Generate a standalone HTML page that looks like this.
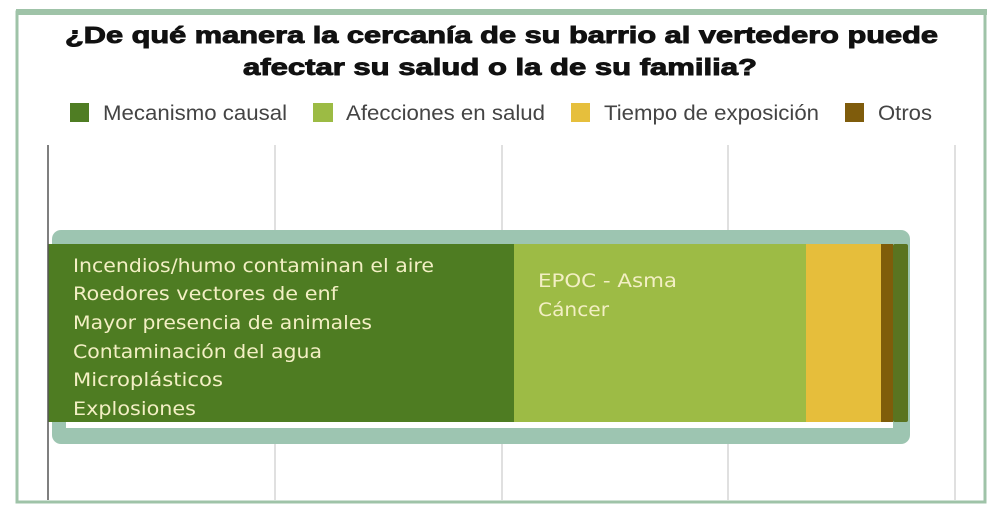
<!DOCTYPE html>
<html><head><meta charset="utf-8"><style>
html,body{margin:0;padding:0;background:#fff;}
svg{display:block;}
</style></head><body>
<svg width="992" height="509" xmlns="http://www.w3.org/2000/svg">
<rect x="0" y="0" width="992" height="509" fill="#fff"/>
<!-- frame -->
<rect x="17" y="12" width="968" height="490" fill="none" stroke="#9fc3a8" stroke-width="3"/>
<rect x="16" y="9" width="971" height="6" fill="#9fc3a8"/>
<!-- title -->
<g font-family="Liberation Sans, sans-serif" font-weight="bold" font-size="23" fill="#111" stroke="#111" stroke-width="0.9">
<text x="65" y="43" textLength="873" lengthAdjust="spacingAndGlyphs">¿De qué manera la cercanía de su barrio al vertedero puede</text>
<text x="243" y="75" textLength="514" lengthAdjust="spacingAndGlyphs">afectar su salud o la de su familia?</text>
</g>
<!-- legend -->
<g font-family="Liberation Sans, sans-serif" font-size="21" fill="#444">
<rect x="70" y="103" width="19" height="19" fill="#4f7d23"/>
<text x="103" y="120" textLength="184" lengthAdjust="spacingAndGlyphs">Mecanismo causal</text>
<rect x="313" y="103" width="20" height="19" fill="#9cbb44"/>
<text x="346" y="120" textLength="199" lengthAdjust="spacingAndGlyphs">Afecciones en salud</text>
<rect x="571" y="103" width="19" height="19" fill="#e6bf3c"/>
<text x="604" y="120" textLength="215" lengthAdjust="spacingAndGlyphs">Tiempo de exposición</text>
<rect x="845" y="103" width="19" height="19" fill="#7f5c0c"/>
<text x="878" y="120" textLength="54" lengthAdjust="spacingAndGlyphs">Otros</text>
</g>
<!-- grid -->
<g stroke="#d6d6d6" stroke-width="1.5">
<line x1="275" y1="145" x2="275" y2="500"/>
<line x1="502" y1="145" x2="502" y2="500"/>
<line x1="728" y1="145" x2="728" y2="500"/>
<line x1="955" y1="145" x2="955" y2="500"/>
</g>
<!-- highlight box -->
<rect x="52" y="230" width="858" height="214" rx="9" fill="#9dc5b1"/>
<rect x="66" y="420" width="827" height="8" fill="#fff"/>
<!-- bars -->
<rect x="48" y="244" width="466" height="178" fill="#4e7c22"/>
<rect x="514" y="244" width="292" height="178" fill="#9dbb45"/>
<rect x="806" y="244" width="75" height="178" fill="#e6be3b"/>
<rect x="881" y="244" width="12" height="178" fill="#7f5d0a"/>
<rect x="893" y="244" width="15" height="178" rx="2" fill="#5a7420"/>
<line x1="48" y1="145" x2="48" y2="500" stroke="#555" stroke-width="1.5"/>
<!-- bar texts -->
<g font-family="DejaVu Sans, sans-serif" font-size="19" fill="#f3efc4">
<text x="73" y="272" textLength="361" lengthAdjust="spacingAndGlyphs">Incendios/humo contaminan el aire</text>
<text x="73" y="300" textLength="265" lengthAdjust="spacingAndGlyphs">Roedores vectores de enf</text>
<text x="73" y="329" textLength="299" lengthAdjust="spacingAndGlyphs">Mayor presencia de animales</text>
<text x="73" y="358" textLength="249" lengthAdjust="spacingAndGlyphs">Contaminación del agua</text>
<text x="73" y="386" textLength="150" lengthAdjust="spacingAndGlyphs">Microplásticos</text>
<text x="73" y="415" textLength="123" lengthAdjust="spacingAndGlyphs">Explosiones</text>
<text x="538" y="287" textLength="139" lengthAdjust="spacingAndGlyphs">EPOC - Asma</text>
<text x="538" y="316" textLength="71" lengthAdjust="spacingAndGlyphs">Cáncer</text>
</g>
</svg>
</body></html>
